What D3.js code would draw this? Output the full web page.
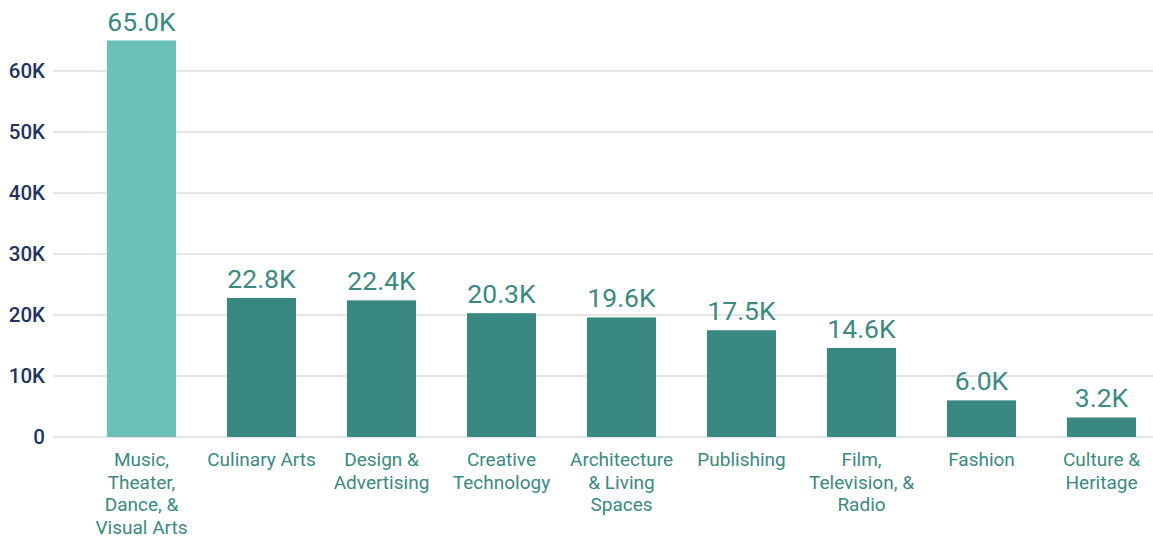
<!DOCTYPE html>
<html><head><meta charset="utf-8">
<script src="https://cdn.jsdelivr.net/npm/d3@7"></script>
<style>body{margin:0;background:#fff;}svg{display:block;font-family:Roboto,sans-serif;}</style>
</head><body>
<svg id="c" width="1153" height="539"></svg>
<script>
const categories = [
  ["Music,","Theater,","Dance, &","Visual Arts"],
  ["Culinary Arts"],
  ["Design &","Advertising"],
  ["Creative","Technology"],
  ["Architecture","& Living","Spaces"],
  ["Publishing"],
  ["Film,","Television, &","Radio"],
  ["Fashion"],
  ["Culture &","Heritage"]
];
const values = [65000, 22800, 22400, 20300, 19600, 17500, 14600, 6000, 3200];
const yTicks = [0, 10000, 20000, 30000, 40000, 50000, 60000];
const yTickLabels = ["0","10K","20K","30K","40K","50K","60K"];

const svg = d3.select("#c");
const idx = d3.range(values.length);
const x = d3.scaleBand().domain(idx).range([81.5, 1161.5]).paddingInner(0.425).paddingOuter(0.2125);
const y = d3.scaleLinear().domain([0, 70000]).range([437, 10]);

svg.append("g").selectAll("line").data(yTicks).join("line")
  .attr("x1", 53).attr("x2", 1153)
  .attr("y1", d => y(d)).attr("y2", d => y(d))
  .attr("stroke", "#dcdcdc").attr("stroke-width", 1.5);

const yAxis = d3.axisLeft(y).tickValues(yTicks).tickFormat((d,i) => yTickLabels[i]).tickSize(0).tickPadding(0);
const ga = svg.append("g").attr("transform", "translate(45,0)").call(yAxis);
ga.select(".domain").remove();
ga.selectAll("text").attr("fill", "#1f3461").attr("font-size", 20.5).attr("font-weight", 500).attr("font-family", "Roboto, sans-serif");

svg.append("g").selectAll("rect").data(values).join("rect")
  .attr("x", (d,i) => x(i)).attr("width", x.bandwidth())
  .attr("y", d => y(d)).attr("height", d => y(0) - y(d))
  .attr("fill", (d,i) => i === 0 ? "#6bc0b8" : "#388780");

svg.append("g").selectAll("text").data(values).join("text")
  .attr("x", (d,i) => x(i) + x.bandwidth()/2)
  .attr("y", d => y(d) - 10)
  .attr("text-anchor", "middle").attr("fill", "#3a8a82")
  .attr("font-size", 26.5)
  .text(d => (d/1000).toFixed(1) + "K");

const cl = svg.append("g").selectAll("text").data(categories).join("text")
  .attr("x", (d,i) => x(i) + x.bandwidth()/2)
  .attr("y", 466)
  .attr("text-anchor", "middle").attr("fill", "#3a8a82")
  .attr("font-size", 19);
cl.selectAll("tspan").data(d => d).join("tspan")
  .attr("x", function(){ return this.parentNode.getAttribute("x"); })
  .attr("dy", (d,i) => i === 0 ? 0 : 22.5)
  .text(d => d);
</script>
</body></html>
